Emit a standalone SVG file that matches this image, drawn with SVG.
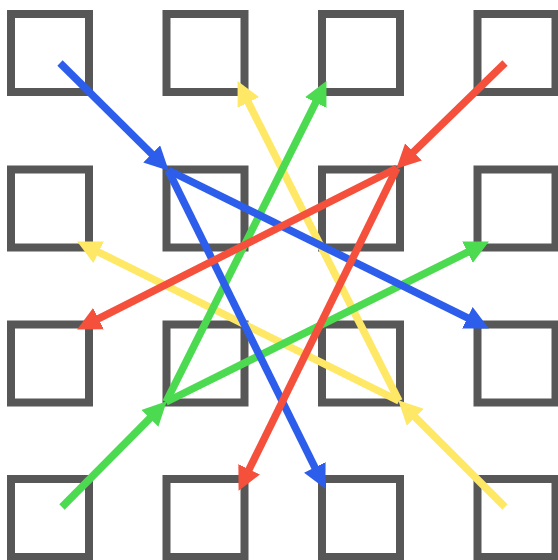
<svg xmlns="http://www.w3.org/2000/svg" width="558" height="560" viewBox="0 0 558 560">
<style>
.sq{fill:none;stroke:#575757;stroke-width:8}
.ln{fill:none;stroke-width:7.5;stroke-linecap:butt}
.y{stroke:#FFE866}.g{stroke:#4CDB50}.b{stroke:#2D5EEB}.r{stroke:#F4503C}
</style>
<defs>
<marker id="my" markerUnits="userSpaceOnUse" markerWidth="24" markerHeight="24" viewBox="0 0 24 24" refX="11" refY="12" orient="auto"><path d="M0,0 L24,12 L0,24 z" fill="#FFE866"/></marker>
<marker id="mg" markerUnits="userSpaceOnUse" markerWidth="24" markerHeight="24" viewBox="0 0 24 24" refX="11" refY="12" orient="auto"><path d="M0,0 L24,12 L0,24 z" fill="#4CDB50"/></marker>
<marker id="mb" markerUnits="userSpaceOnUse" markerWidth="24" markerHeight="24" viewBox="0 0 24 24" refX="11" refY="12" orient="auto"><path d="M0,0 L24,12 L0,24 z" fill="#2D5EEB"/></marker>
<marker id="mr" markerUnits="userSpaceOnUse" markerWidth="24" markerHeight="24" viewBox="0 0 24 24" refX="11" refY="12" orient="auto"><path d="M0,0 L24,12 L0,24 z" fill="#F4503C"/></marker>
</defs>
<rect width="558" height="560" fill="#fff"/>
<g id="n00"><rect class="sq" x="11" y="14" width="78" height="78"/></g>
<g id="n10"><rect class="sq" x="166.5" y="14" width="78" height="78"/></g>
<g id="n20"><rect class="sq" x="322" y="14" width="78" height="78"/></g>
<g id="n30"><rect class="sq" x="477.5" y="14" width="78" height="78"/></g>
<g id="n01"><rect class="sq" x="11" y="169.5" width="78" height="78"/></g>
<g id="n11"><rect class="sq" x="166.5" y="169.5" width="78" height="78"/></g>
<g id="n21"><rect class="sq" x="322" y="169.5" width="78" height="78"/></g>
<g id="n31"><rect class="sq" x="477.5" y="169.5" width="78" height="78"/></g>
<g id="n02"><rect class="sq" x="11" y="324.5" width="78" height="78"/></g>
<g id="n12"><rect class="sq" x="166.5" y="324.5" width="78" height="78"/></g>
<g id="n22"><rect class="sq" x="322" y="324.5" width="78" height="78"/></g>
<g id="n32"><rect class="sq" x="477.5" y="324.5" width="78" height="78"/></g>
<g id="n03"><rect class="sq" x="11" y="479" width="78" height="78"/></g>
<g id="n13"><rect class="sq" x="166.5" y="479" width="78" height="78"/></g>
<g id="n23"><rect class="sq" x="322" y="479" width="78" height="78"/></g>
<g id="n33"><rect class="sq" x="477.5" y="479" width="78" height="78"/></g>
<g id="connectors">
<line class="ln y" x1="505" y1="507" x2="407.5" y2="409.5" marker-end="url(#my)"/>
<line class="ln y" x1="399" y1="401" x2="243.4" y2="92.7" marker-end="url(#my)"/>
<line class="ln y" x1="399" y1="401" x2="88.8" y2="247.3" marker-end="url(#my)"/>
<line class="ln g" x1="62" y1="507" x2="157.6" y2="410.5" marker-end="url(#mg)"/>
<line class="ln g" x1="166" y1="402" x2="320.6" y2="92.7" marker-end="url(#mg)"/>
<line class="ln g" x1="166" y1="402" x2="477.3" y2="247.3" marker-end="url(#mg)"/>
<line class="ln b" x1="60" y1="63" x2="159.5" y2="161.6" marker-end="url(#mb)"/>
<line class="ln b" x1="168" y1="170" x2="477.2" y2="322.7" marker-end="url(#mb)"/>
<line class="ln b" x1="168" y1="170" x2="319.7" y2="477.2" marker-end="url(#mb)"/>
<line class="ln r" x1="505" y1="63" x2="405.6" y2="159.6" marker-end="url(#mr)"/>
<line class="ln r" x1="397" y1="168" x2="88.7" y2="323.6" marker-end="url(#mr)"/>
<line class="ln r" x1="397" y1="168" x2="244.3" y2="479.2" marker-end="url(#mr)"/>
</g>
</svg>
